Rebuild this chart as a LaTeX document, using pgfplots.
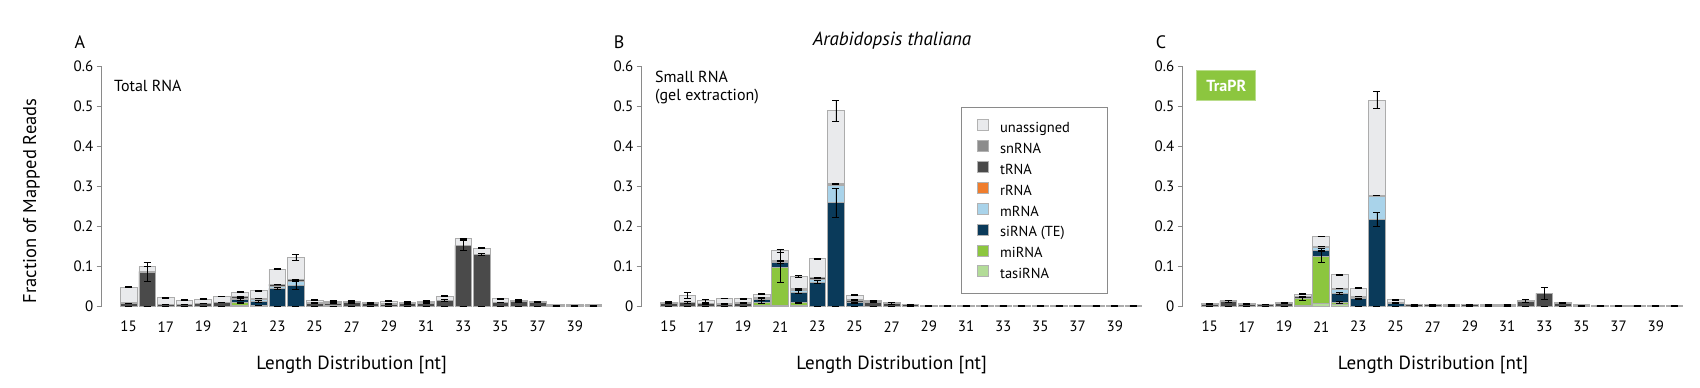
\documentclass[border=0pt]{standalone}
\usepackage{fontspec}
\setmainfont{PT Sans}
\usepackage{pgfplots}
\usepackage{pgfplotstable}
\pgfplotsset{compat=1.18}

\definecolor{cUn}{HTML}{E9EAEC}
\definecolor{cSn}{HTML}{8C8C8C}
\definecolor{cT}{HTML}{4A4A4A}
\definecolor{cR}{HTML}{EF7D2D}
\definecolor{cM}{HTML}{A9D3EA}
\definecolor{cSi}{HTML}{0A3A5A}
\definecolor{cMi}{HTML}{8CC63F}
\definecolor{cTasi}{HTML}{B3DC98}
\definecolor{trapr}{HTML}{8CC63F}
\definecolor{axgray}{HTML}{8A8A8A}

% Panel A: Total RNA
\pgfplotstableread{
x tasi mi si m r t sn un emi esi et eun
15 0 0 0 0 0 0.006 0.002 0.039 0 0 0 0.001
16 0 0 0 0 0 0.085 0.002 0.012 0 0 0.023 0.001
17 0 0 0 0 0 0.004 0.001 0.016 0 0 0 0.001
18 0 0 0 0 0 0.004 0.001 0.010 0 0 0 0.001
19 0 0 0 0 0 0.006 0.001 0.010 0 0 0 0.001
20 0 0 0 0 0 0.008 0.002 0.014 0 0 0 0.001
21 0.002 0.006 0.008 0.002 0 0.005 0.001 0.011 0.002 0.003 0.002 0.001
22 0 0.001 0.011 0.004 0 0.003 0.001 0.018 0 0.002 0.001 0.001
23 0 0 0.044 0.006 0 0.004 0.001 0.037 0 0.002 0.001 0.001
24 0 0 0.052 0.010 0 0.004 0.001 0.055 0 0.010 0.001 0.008
25 0 0 0 0 0 0.007 0.001 0.007 0 0 0.001 0.001
26 0 0 0 0 0.001 0.006 0.001 0.004 0 0 0.001 0.001
27 0 0 0 0 0 0.008 0.001 0.003 0 0 0.001 0.001
28 0 0 0 0 0 0.006 0.001 0.002 0 0 0.001 0.001
29 0 0 0 0 0 0.005 0.001 0.006 0 0 0.001 0.001
30 0 0 0 0 0 0.006 0.001 0.003 0 0 0.001 0.001
31 0 0 0 0 0 0.007 0.001 0.004 0 0 0.001 0.001
32 0 0 0 0 0 0.014 0.001 0.010 0 0 0.002 0.001
33 0 0 0 0 0 0.151 0.001 0.016 0 0 0.012 0.001
34 0 0 0 0 0 0.129 0.001 0.015 0 0 0.002 0.001
35 0 0 0 0 0 0.009 0.001 0.008 0 0 0.001 0.001
36 0 0 0 0 0 0.011 0.001 0.003 0 0 0.001 0.001
37 0 0 0 0 0 0.010 0.001 0.001 0 0 0.001 0
38 0 0 0 0 0 0.002 0.001 0 0 0 0 0
39 0 0 0 0 0 0.002 0.001 0 0 0 0 0
40 0 0 0 0 0 0.002 0.001 0 0 0 0 0
}\dataA

% Panel B: Small RNA (gel extraction)
\pgfplotstableread{
x tasi mi si m r t sn un emi esi et eun
15 0 0 0 0 0 0.007 0.001 0.002 0 0 0.001 0.001
16 0 0 0 0 0 0.009 0.001 0.016 0 0 0.002 0.008
17 0 0 0 0 0 0.006 0.001 0.006 0 0 0.001 0.003
18 0 0 0 0 0 0.005 0.001 0.013 0 0 0.001 0.001
19 0 0 0 0 0 0.007 0.001 0.010 0 0 0.001 0.001
20 0.001 0.009 0.006 0.001 0 0.003 0.001 0.009 0.003 0.002 0.001 0.001
21 0.002 0.095 0.012 0.002 0 0.003 0.001 0.023 0.038 0.003 0.001 0.003
22 0.002 0.006 0.027 0.005 0 0.002 0.001 0.031 0.002 0.003 0.001 0.002
23 0 0 0.060 0.007 0 0.004 0.001 0.046 0 0.003 0.001 0.002
24 0 0 0.258 0.043 0 0.004 0.001 0.182 0 0.036 0.002 0.026
25 0 0 0.008 0 0 0.007 0.001 0.011 0 0.002 0.001 0.001
26 0 0 0 0 0 0.010 0.001 0.003 0 0 0.001 0.001
27 0 0 0 0 0 0.007 0.001 0 0 0 0.002 0
28 0 0 0 0 0 0.003 0.001 0 0 0 0.001 0
29 0 0 0 0 0 0.002 0 0 0 0 0 0
30 0 0 0 0 0 0.001 0 0 0 0 0 0
31 0 0 0 0 0 0.001 0 0 0 0 0 0
32 0 0 0 0 0 0.001 0 0 0 0 0 0
33 0 0 0 0 0 0.001 0 0 0 0 0 0
34 0 0 0 0 0 0.001 0 0 0 0 0 0
35 0 0 0 0 0 0.001 0 0 0 0 0 0
36 0 0 0 0 0 0.001 0 0 0 0 0 0
37 0 0 0 0 0 0.001 0 0 0 0 0 0
38 0 0 0 0 0 0.001 0 0 0 0 0 0
39 0 0 0 0 0 0.001 0 0 0 0 0 0
40 0 0 0 0 0 0.001 0 0 0 0 0 0
}\dataB

% Panel C: TraPR
\pgfplotstableread{
x tasi mi si m r t sn un emi esi et eun
15 0 0 0 0 0 0.005 0.001 0 0 0 0.001 0
16 0 0 0 0 0 0.012 0.001 0 0 0 0.002 0
17 0 0 0 0 0 0.005 0.001 0 0 0 0.001 0
18 0 0 0 0 0 0.004 0.001 0 0 0 0.001 0
19 0 0 0 0 0 0.007 0.001 0 0 0 0.001 0
20 0.002 0.016 0.002 0 0 0.003 0.001 0.006 0.003 0.001 0.001 0.001
21 0.006 0.119 0.015 0.007 0 0.002 0.001 0.024 0.015 0.003 0.001 0.001
22 0.003 0.006 0.023 0.009 0 0.003 0.001 0.033 0.002 0.002 0.001 0.001
23 0 0 0.018 0.003 0 0.003 0.001 0.020 0 0.002 0.001 0.001
24 0 0 0.217 0.057 0 0.002 0.001 0.238 0 0.018 0.001 0.022
25 0 0 0.007 0 0 0.002 0.001 0.006 0 0.001 0.001 0.001
26 0 0 0 0 0 0.003 0.001 0 0 0 0.001 0
27 0 0 0 0 0 0.003 0.001 0 0 0 0.001 0
28 0 0 0 0 0 0.002 0.001 0 0 0 0.001 0
29 0 0 0 0 0 0.003 0.001 0 0 0 0.001 0
30 0 0 0 0 0 0.002 0.001 0 0 0 0.001 0
31 0 0 0 0 0 0.002 0.001 0 0 0 0.001 0
32 0 0 0 0 0 0.012 0.001 0.002 0 0 0.004 0.001
33 0 0 0 0 0 0.031 0.001 0 0 0 0.015 0
34 0 0 0 0 0 0.007 0.001 0 0 0 0.001 0
35 0 0 0 0 0 0.002 0.001 0 0 0 0 0
36 0 0 0 0 0 0.002 0 0 0 0 0 0
37 0 0 0 0 0 0.002 0 0 0 0 0 0
38 0 0 0 0 0 0.001 0 0 0 0 0 0
39 0 0 0 0 0 0.001 0 0 0 0 0 0
40 0 0 0 0 0 0.001 0 0 0 0 0 0
}\dataC

\pgfplotsset{
  panel/.style={
    scale only axis, width=500bp, height=240bp,
    xmin=13.55, xmax=40.45, ymin=0, ymax=0.6,
    ybar stacked, bar width=0.9,
    axis lines*=left,
    x axis line style={draw=none},
    y axis line style={draw=axgray, line width=0.9bp},
    xtick={15,17,...,39},
    ytick={0,0.1,0.2,0.3,0.4,0.5,0.6},
    yticklabels={0,0.1,0.2,0.3,0.4,0.5,0.6},
    xtick style={draw=none},
    ytick style={draw=axgray, line width=0.9bp},
    tick align=outside, major tick length=5bp,
    /pgf/number format/assume math mode=true,
    tick label style={font=\fontsize{15bp}{17bp}\selectfont},
    xticklabel style={anchor=center, yshift=-15.7bp},
    yticklabel style={anchor=east},
    every axis plot/.append style={draw=gray!65, line width=0.7bp},
    clip=false,
  },
  eb/.style={error bars/.cd, y dir=both, y explicit,
    error bar style={black, line width=0.8bp},
    error mark options={black, rotate=90, mark size=3.5bp, line width=0.8bp}},
}

\newcommand{\stackseries}[1]{%
  \addplot[fill=cTasi] table[x=x,y=tasi]{#1};
  \addplot[fill=cMi, eb] table[x=x,y=mi,y error=emi]{#1};
  \addplot[fill=cSi, eb] table[x=x,y=si,y error=esi]{#1};
  \addplot[fill=cM] table[x=x,y=m]{#1};
  \addplot[fill=cR] table[x=x,y=r]{#1};
  \addplot[fill=cT, eb] table[x=x,y=t,y error=et]{#1};
  \addplot[fill=cSn] table[x=x,y=sn]{#1};
  \addplot[fill=cUn, eb] table[x=x,y=un,y error=eun]{#1};
}

\begin{document}
\begin{tikzpicture}[x=1bp,y=1bp]
\useasboundingbox (0,0) rectangle (1700,387);

\begin{axis}[panel, at={(101.7bp,81bp)}, anchor=south west]
  \stackseries{\dataA}
\end{axis}

\begin{axis}[panel, at={(641.7bp,81bp)}, anchor=south west,
  reverse legend,
  legend style={at={(rel axis cs:0.639,0.829)}, anchor=north west,
    draw=axgray, line width=0.8bp, fill=white,
    font=\fontsize{14.5bp}{16bp}\selectfont,
    inner xsep=15bp, inner ysep=12bp, row sep=4.6bp,
    nodes={inner sep=0pt, text height=10bp, text depth=3bp},
    /tikz/every odd column/.append style={column sep=12bp}},
  legend cell align=left,
  legend image code/.code={\draw[#1, draw=gray!60, line width=0.5bp] (0bp,-1.5bp) rectangle (11bp,9.5bp);},
  ]
  \stackseries{\dataB}
  \legend{tasiRNA,miRNA,siRNA (TE),mRNA,rRNA,tRNA,snRNA,unassigned\hspace*{22bp}}
\end{axis}

\begin{axis}[panel, at={(1182.7bp,81bp)}, anchor=south west]
  \stackseries{\dataC}
\end{axis}

% Texts
\node[font=\fontsize{18bp}{20bp}\selectfont] at (80,345) {A};
\node[font=\fontsize{18bp}{20bp}\selectfont] at (619,345) {B};
\node[font=\fontsize{18bp}{20bp}\selectfont] at (1161,345) {C};
\node[font=\fontsize{19bp}{21bp}\selectfont\itshape] at (892,346) {Arabidopsis thaliana};
\node[anchor=west, inner sep=0pt, font=\fontsize{16bp}{18bp}\selectfont] at (114,301) {Total RNA};
\node[anchor=west, inner sep=0pt, font=\fontsize{16bp}{18bp}\selectfont] at (655,310) {Small RNA};
\node[anchor=west, inner sep=0pt, font=\fontsize{16bp}{18bp}\selectfont] at (655,290) {(gel extraction)};
\node[fill=trapr, draw=trapr!60!white, line width=0.8bp, minimum width=59bp, minimum height=30bp, inner sep=0pt, text=white, font=\fontsize{16bp}{18bp}\selectfont\bfseries] at (1226.3,301.3) {TraPR};
\node[font=\fontsize{19bp}{21bp}\selectfont] at (351.7,22) {Length Distribution [nt]};
\node[font=\fontsize{19bp}{21bp}\selectfont] at (891.7,22) {Length Distribution [nt]};
\node[font=\fontsize{19bp}{21bp}\selectfont] at (1433,22) {Length Distribution [nt]};
\node[rotate=90, font=\fontsize{18.5bp}{21bp}\selectfont] at (31.5,186) {Fraction of Mapped Reads};
\end{tikzpicture}
\end{document}
